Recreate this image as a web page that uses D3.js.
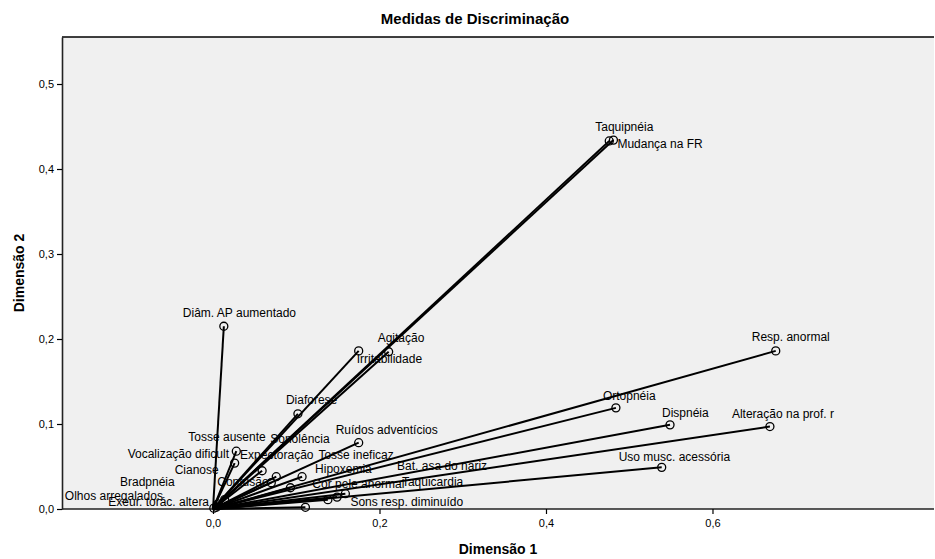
<!DOCTYPE html>
<html><head><meta charset="utf-8">
<script src="https://cdn.jsdelivr.net/npm/d3@7"></script>
<style>body{margin:0;background:#fff;} text{font-family:"Liberation Sans",Arial,sans-serif;}</style>
</head><body><svg id="c" width="935" height="559"></svg>
<script>
const names = ["Taquipnéia","Mudança na FR","Resp. anormal","Alteração na prof. r","Dispnéia","Ortopnéia","Uso musc. acessória","Agitação","Irritabilidade","Diaforese","Diâm. AP aumentado","Ruídos adventícios","Tosse ausente","Vocalização dificult","Expectoração","Sonolência","Hipoxemia","Confusão","Tosse ineficaz","Cor pele anormal","Bat. asa do nariz","Taquicardia","Sons resp. diminuído","Cianose","Bradpnéia","Olhos arregalados","Exeur. torác. altera"];
const dim1 = [0.476,0.481,0.676,0.669,0.549,0.484,0.539,0.211,0.175,0.102,0.013,0.175,0.028,0.026,0.059,0.076,0.107,0.070,0.093,0.159,0.149,0.138,0.111,0.014,0.006,0.001,0.004];
const dim2 = [0.433,0.434,0.186,0.097,0.099,0.119,0.049,0.185,0.186,0.112,0.215,0.078,0.068,0.054,0.045,0.038,0.038,0.031,0.025,0.018,0.014,0.011,0.002,0.011,0.006,0.001,0.002];
const xTicks = [0.0,0.2,0.4,0.6];
const yTicks = [0.0,0.1,0.2,0.3,0.4,0.5];
const title = "Medidas de Discriminação";
const xTitle = "Dimensão 1", yTitle = "Dimensão 2";

// label placement relative to point (layout only)
const labelOffset = {
 "Taquipnéia":[-14,-10],"Mudança na FR":[4,8],"Resp. anormal":[-24,-10],"Alteração na prof. r":[-38,-9],
 "Dispnéia":[-8,-8],"Ortopnéia":[-13,-8],"Uso musc. acessória":[-43,-6],"Agitação":[-11,-10],
 "Irritabilidade":[-2,12],"Diaforese":[-12,-10],"Diâm. AP aumentado":[-41,-9],"Ruídos adventícios":[-23,-9],
 "Tosse ausente":[-48,-10],"Sonolência":[-6,-34],"Vocalização dificult":[-107,-5],"Expectoração":[-22,-12],
 "Tosse ineficaz":[28,-29],"Cianose":[-50,-26],"Hipoxemia":[13,-4],"Bat. asa do nariz":[60,-27],
 "Bradpnéia":[-98,-18],"Confusão":[-54,3],"Cor pele anormal":[-33,-6],"Taquicardia":[74,-14],
 "Olhos arregalados":[-149,-8],"Exeur. torác. altera":[-108,-1],"Sons resp. diminuído":[45,-1]
};

const L=62,R=934,T=37,B=509;
const x = d3.scaleLinear().domain([-0.1814,0.8661]).range([L,R]);
const y = d3.scaleLinear().domain([0,0.5553]).range([B,T]);
const fmt = d => d3.format(".1f")(d).replace(".",",");
const svg = d3.select("#c");

svg.append("rect").attr("x",L).attr("y",T).attr("width",R-L).attr("height",B-T).attr("fill","#f0f0f0");
svg.append("line").attr("x1",L).attr("x2",R).attr("y1",T).attr("y2",T).attr("stroke","#000").attr("stroke-width",1.5);

const gx = svg.append("g").attr("transform",`translate(0,${B})`)
 .call(d3.axisBottom(x).tickValues(xTicks).tickFormat(fmt).tickSize(5).tickSizeOuter(0));
const gy = svg.append("g").attr("transform",`translate(${L},0)`)
 .call(d3.axisLeft(y).tickValues(yTicks).tickFormat(fmt).tickSize(5).tickSizeOuter(0));
[gx,gy].forEach(g=>{
 g.select(".domain").attr("stroke","#222").attr("stroke-width",1.6);
 g.selectAll(".tick line").attr("stroke","#000").attr("stroke-width",1.2);
 g.selectAll(".tick text").attr("font-size",11).attr("fill","#000").attr("font-family","Liberation Sans, Arial, sans-serif");
});
gx.select(".domain").attr("d",`M${L},0H${R}`);
gx.selectAll(".tick text").attr("dy","0.95em");

const pts = names.map((n,i)=>({n, px:x(dim1[i]), py:y(dim2[i])}));
svg.append("g").selectAll("line").data(pts).join("line")
 .attr("x1",x(0)).attr("y1",y(0)).attr("x2",d=>d.px).attr("y2",d=>d.py)
 .attr("stroke","#000").attr("stroke-width",2);
svg.append("g").selectAll("circle").data(pts).join("circle")
 .attr("cx",d=>d.px).attr("cy",d=>d.py).attr("r",4)
 .attr("fill","none").attr("stroke","#000").attr("stroke-width",1.3);
svg.append("g").selectAll("text").data(pts).join("text")
 .attr("x",d=>d.px+labelOffset[d.n][0]).attr("y",d=>d.py+labelOffset[d.n][1])
 .attr("font-size",12).attr("fill","#000").text(d=>d.n);

svg.append("text").attr("x",475).attr("y",24).attr("text-anchor","middle").attr("font-size",15).attr("font-weight","bold").text(title);
svg.append("text").attr("x",(L+R)/2).attr("y",554).attr("text-anchor","middle").attr("font-size",14).attr("font-weight","bold").text(xTitle);
svg.append("text").attr("transform",`translate(24,${(T+B)/2}) rotate(-90)`).attr("text-anchor","middle").attr("font-size",14).attr("font-weight","bold").text(yTitle);
</script></body></html>
